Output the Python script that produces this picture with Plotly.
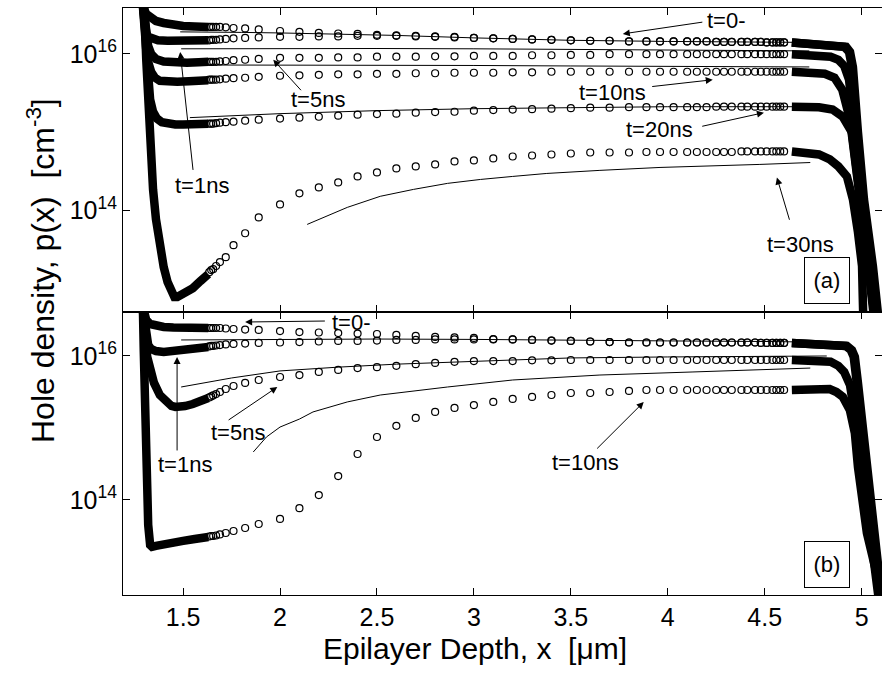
import plotly.graph_objects as go

# ---------------------------------------------------------------------------
# Hole density p(x) [cm^-3] versus epilayer depth x [um]
# circles: simulated profiles, solid thin lines: analytical model
# ---------------------------------------------------------------------------

# mesh nodes where individual simulation circles are resolved
MESH_X = [1.635, 1.645, 1.655, 1.67, 1.69, 1.72, 1.76, 1.82, 1.89,
          2.0, 2.1, 2.2, 2.3, 2.4, 2.5, 2.6, 2.7, 2.8, 2.9, 3.0, 3.1, 3.2,
          3.3, 3.4, 3.5, 3.6, 3.7,
          3.8, 3.89, 3.96, 4.03, 4.10, 4.15, 4.2, 4.25, 4.29, 4.33, 4.38,
          4.41, 4.45, 4.48, 4.51, 4.54, 4.56, 4.58, 4.60]

X_TICKS = [1.5, 2, 2.5, 3, 3.5, 4, 4.5, 5]
X_TICK_TEXT = ["1.5", "2", "2.5", "3", "3.5", "4", "4.5", "5"]
Y_TICKS = [1e14, 1e16]
Y_TICK_TEXT = ["10<sup>14</sup>", "10<sup>16</sup>"]

# ----------------------------- panel (a) -----------------------------------
A_T0_LEFT_X = [1.29, 1.295, 1.30, 1.31, 1.33, 1.36, 1.40, 1.45, 1.50, 1.56, 1.63]
A_T0_LEFT_P = [4.9e16, 3.85e16, 3.64e16, 3.24e16, 2.88e16, 2.63e16, 2.48e16,
               2.34e16, 2.27e16, 2.24e16, 2.21e16]
A_T0 = [2.21e16, 2.21e16, 2.21e16, 2.21e16, 2.21e16, 2.18e16, 2.14e16, 2.11e16,
        2.05e16, 1.96e16, 1.91e16, 1.85e16, 1.82e16, 1.80e16, 1.75e16, 1.72e16,
        1.70e16, 1.67e16, 1.65e16, 1.60e16, 1.58e16, 1.55e16, 1.53e16, 1.51e16,
        1.49e16, 1.47e16, 1.47e16,
        1.44e16, 1.44e16, 1.44e16, 1.44e16, 1.44e16, 1.44e16, 1.44e16,
        1.42e16, 1.42e16, 1.42e16, 1.42e16, 1.42e16, 1.42e16, 1.42e16,
        1.40e16, 1.40e16, 1.40e16, 1.40e16, 1.40e16]
A_T0_RIGHT_X = [4.64, 4.70, 4.80, 4.88, 4.92, 4.94, 4.955, 4.981, 5.012, 5.058, 5.074, 5.09]
A_T0_RIGHT_P = [1.40e16, 1.36e16, 1.32e16, 1.28e16, 1.23e16, 1.06e16, 6.8e15,
                9.9e14, 1.38e14, 1.94e13, 7.3e12, 3.5e12]

A_T1_LEFT_X = [1.29, 1.295, 1.30, 1.305, 1.31, 1.32, 1.34, 1.37, 1.42, 1.50, 1.56, 1.63]
A_T1_LEFT_P = [4.9e16, 3.43e16, 2.71e16, 2.21e16, 1.85e16, 1.65e16, 1.55e16,
               1.49e16, 1.47e16, 1.47e16, 1.47e16, 1.49e16]
A_T1 = [1.49e16, 1.51e16, 1.51e16, 1.51e16, 1.53e16, 1.55e16, 1.58e16, 1.60e16,
        1.62e16, 1.65e16, 1.65e16, 1.67e16, 1.67e16, 1.70e16, 1.70e16, 1.70e16,
        1.67e16, 1.65e16, 1.62e16, 1.60e16, 1.58e16, 1.55e16, 1.53e16, 1.51e16,
        1.49e16, 1.47e16, 1.47e16,
        1.44e16, 1.44e16, 1.44e16, 1.44e16, 1.44e16, 1.44e16, 1.44e16,
        1.42e16, 1.42e16, 1.42e16, 1.42e16, 1.42e16, 1.42e16, 1.42e16,
        1.40e16, 1.40e16, 1.40e16, 1.40e16, 1.40e16]
A_T1_RIGHT_X = [4.64, 4.70, 4.80, 4.87, 4.91, 4.935, 4.95, 4.975, 5.005, 5.05, 5.066, 5.08]
A_T1_RIGHT_P = [1.40e16, 1.36e16, 1.32e16, 1.28e16, 1.23e16, 1.06e16, 6.8e15,
                9.9e14, 1.38e14, 1.94e13, 7.3e12, 3.5e12]

A_T5_LEFT_X = [1.29, 1.30, 1.305, 1.31, 1.32, 1.335, 1.36, 1.40, 1.45, 1.52, 1.58, 1.63]
A_T5_LEFT_P = [4.9e16, 3.14e16, 2.21e16, 1.70e16, 1.26e16, 1.0e16, 8.6e15,
               8.0e15, 7.8e15, 7.7e15, 7.8e15, 7.9e15]
A_T5 = [7.9e15, 7.9e15, 7.9e15, 7.9e15, 8.0e15, 8.1e15, 8.3e15, 8.4e15, 8.6e15,
        8.9e15, 8.9e15, 8.9e15, 9.0e15, 9.0e15, 9.2e15, 9.2e15, 9.2e15, 9.3e15,
        9.3e15, 9.4e15, 9.4e15, 9.4e15, 9.6e15, 9.6e15, 9.7e15, 9.7e15, 9.9e15,
        9.9e15, 9.9e15, 9.9e15, 9.9e15, 9.9e15, 9.9e15, 9.9e15, 9.9e15, 9.9e15,
        9.9e15, 9.9e15, 9.9e15, 9.9e15, 9.9e15, 9.9e15, 9.9e15, 9.9e15, 9.9e15,
        9.9e15]
A_T5_RIGHT_X = [4.64, 4.70, 4.78, 4.84, 4.88, 4.91, 4.935, 4.965, 5.0, 5.045, 5.07, 5.085]
A_T5_RIGHT_P = [9.9e15, 9.7e15, 9.6e15, 9.2e15, 8.4e15, 7.0e15, 4.67e15, 9.9e14,
                1.38e14, 1.94e13, 5.0e12, 3.05e12]

A_T10_LEFT_X = [1.29, 1.30, 1.305, 1.31, 1.32, 1.335, 1.355, 1.38, 1.42, 1.47, 1.53, 1.58, 1.63]
A_T10_LEFT_P = [4.9e16, 2.71e16, 1.75e16, 1.19e16, 7.9e15, 5.9e15, 4.95e15,
                4.53e15, 4.40e15, 4.40e15, 4.47e15, 4.53e15, 4.60e15]
A_T10 = [4.67e15, 4.67e15, 4.67e15, 4.67e15, 4.73e15, 4.81e15, 4.88e15, 4.95e15,
         5.09e15, 5.25e15, 5.32e15, 5.40e15, 5.48e15, 5.48e15, 5.56e15, 5.56e15,
         5.65e15, 5.65e15, 5.73e15, 5.73e15, 5.73e15, 5.81e15, 5.81e15,
         5.90e15, 5.90e15, 5.90e15, 5.90e15, 5.90e15, 5.90e15, 5.90e15, 5.90e15,
         5.90e15, 5.90e15, 5.90e15, 5.90e15, 5.90e15, 5.90e15, 5.90e15, 5.90e15,
         5.90e15, 5.90e15, 5.90e15, 5.90e15, 5.90e15, 5.90e15, 5.90e15]
A_T10_RIGHT_X = [4.64, 4.70, 4.76, 4.81, 4.86, 4.90, 4.94, 4.96, 4.99, 5.035, 5.06, 5.075]
A_T10_RIGHT_P = [5.90e15, 5.90e15, 5.81e15, 5.56e15, 4.95e15, 3.48e15, 1.44e15,
                 6.0e14, 1.38e14, 1.94e13, 5.0e12, 3.05e12]

A_T20_LEFT_X = [1.29, 1.30, 1.305, 1.31, 1.32, 1.33, 1.345, 1.365, 1.39, 1.42,
                1.46, 1.50, 1.56, 1.63]
A_T20_LEFT_P = [4.9e16, 2.34e16, 1.30e16, 7.9e15, 4.0e15, 2.6e15, 1.82e15,
                1.49e15, 1.34e15, 1.28e15, 1.25e15, 1.25e15, 1.26e15, 1.28e15]
A_T20 = [1.28e15, 1.28e15, 1.28e15, 1.30e15, 1.32e15, 1.34e15, 1.36e15, 1.40e15,
         1.44e15, 1.49e15, 1.53e15, 1.57e15, 1.62e15, 1.67e15, 1.70e15, 1.72e15,
         1.77e15, 1.80e15, 1.82e15, 1.88e15, 1.91e15, 1.94e15, 1.96e15, 1.99e15,
         2.02e15, 2.05e15, 2.05e15,
         2.08e15, 2.08e15, 2.08e15, 2.08e15, 2.08e15, 2.08e15, 2.08e15,
         2.11e15, 2.11e15, 2.11e15, 2.11e15, 2.11e15, 2.11e15, 2.11e15, 2.11e15,
         2.11e15, 2.11e15, 2.11e15, 2.11e15]
A_T20_RIGHT_X = [4.64, 4.70, 4.78, 4.85, 4.903, 4.95, 4.975, 5.0, 5.03, 5.06, 5.07]
A_T20_RIGHT_P = [2.11e15, 2.11e15, 2.08e15, 1.94e15, 1.57e15, 9.9e14, 3.64e14,
                 1.03e14, 2.38e13, 5.0e12, 3.05e12]

A_T30_LEFT_X = [1.29, 1.30, 1.31, 1.32, 1.33, 1.345, 1.36, 1.38, 1.40, 1.42, 1.44,
                1.455, 1.47, 1.49, 1.52, 1.55, 1.59, 1.63]
A_T30_LEFT_P = [4.9e16, 3.85e16, 8.4e15, 1.94e15, 6.0e14, 1.85e14, 7.7e13, 3.38e13,
                1.88e13, 1.21e13, 8.8e12, 7.8e12, 7.8e12, 8.3e12, 9.0e12, 1.01e13,
                1.25e13, 1.53e13]
A_T30 = [1.62e13, 1.72e13, 1.77e13, 1.94e13, 2.18e13, 2.52e13, 3.58e13, 5.09e13,
         8.1e13, 1.19e14, 1.65e14, 1.96e14, 2.27e14, 2.71e14, 3.05e14, 3.43e14,
         3.64e14, 3.86e14, 4.21e14, 4.34e14, 4.60e14, 4.87e14, 5.02e14, 5.17e14,
         5.32e14, 5.48e14, 5.48e14, 5.48e14,
         5.56e14, 5.56e14, 5.56e14, 5.56e14, 5.56e14, 5.56e14, 5.56e14, 5.56e14, 5.56e14,
         5.65e14, 5.65e14, 5.65e14, 5.65e14, 5.65e14, 5.65e14, 5.65e14, 5.65e14, 5.65e14]
A_T30_RIGHT_X = [4.64, 4.717, 4.78, 4.836, 4.88, 4.924, 4.955, 4.981, 5.002, 5.006, 5.01]
A_T30_RIGHT_P = [5.65e14, 5.56e14, 5.17e14, 4.47e14, 3.64e14, 2.71e14, 1.38e14,
                 5.25e13, 1.94e13, 7.3e12, 3.05e12]

# analytical model, panel (a)
LA_0_X = [1.485, 1.6, 1.8, 2.0, 2.3, 2.6, 3.0, 3.5, 4.0, 4.5, 4.73]
LA_0_P = [1.91e16, 1.91e16, 1.88e16, 1.85e16, 1.80e16, 1.72e16, 1.60e16, 1.49e16,
          1.44e16, 1.42e16, 1.40e16]
LA_1_X = [1.49, 2.0, 2.5, 3.0, 3.5, 4.0, 4.5, 4.73]
LA_1_P = [1.16e16, 1.17e16, 1.17e16, 1.16e16, 1.14e16, 1.12e16, 1.11e16, 1.09e16]
LA_2_X = [1.62, 2.0, 2.5, 3.0, 3.5, 4.0, 4.5, 4.73]
LA_2_P = [7.2e15, 7.2e15, 7.2e15, 7.1e15, 7.0e15, 6.9e15, 6.8e15, 6.8e15]
LA_3_X = [1.535, 1.75, 2.0, 2.5, 3.0, 3.5, 4.0, 4.5, 4.73]
LA_3_P = [1.53e15, 1.62e15, 1.72e15, 1.88e15, 1.99e15, 2.05e15, 2.11e15, 2.11e15, 2.11e15]
LA_4_X = [2.14, 2.347, 2.517, 2.688, 2.864, 3.034, 3.20, 3.376, 3.65, 3.96, 4.475, 4.735]
LA_4_P = [6.6e13, 1.09e14, 1.51e14, 1.85e14, 2.21e14, 2.48e14, 2.71e14, 2.96e14,
          3.24e14, 3.53e14, 3.86e14, 4.08e14]

# ----------------------------- panel (b) -----------------------------------
B_T0_LEFT_X = [1.29, 1.295, 1.30, 1.31, 1.33, 1.36, 1.40, 1.45, 1.50, 1.56, 1.63]
B_T0_LEFT_P = [5.1e16, 4.08e16, 3.59e16, 3.16e16, 2.78e16, 2.61e16, 2.53e16,
               2.49e16, 2.45e16, 2.45e16, 2.45e16]
B_T0 = [2.45e16, 2.45e16, 2.45e16, 2.45e16, 2.45e16, 2.41e16, 2.37e16, 2.33e16,
        2.30e16, 2.22e16, 2.15e16, 2.12e16, 2.08e16, 2.05e16, 2.02e16, 1.96e16,
        1.90e16, 1.84e16, 1.81e16, 1.78e16, 1.72e16, 1.70e16, 1.67e16, 1.64e16,
        1.62e16, 1.59e16, 1.56e16,
        1.54e16, 1.54e16, 1.54e16, 1.54e16, 1.54e16, 1.54e16, 1.54e16, 1.54e16,
        1.54e16, 1.54e16, 1.54e16, 1.54e16, 1.54e16,
        1.52e16, 1.52e16, 1.52e16, 1.52e16, 1.52e16, 1.52e16]
B_T0_RIGHT_X = [4.64, 4.70, 4.80, 4.88, 4.924, 4.95, 4.965, 4.981, 5.0, 5.027, 5.058, 5.094, 5.11]
B_T0_RIGHT_P = [1.52e16, 1.47e16, 1.45e16, 1.42e16, 1.38e16, 1.21e16, 9.7e15,
                4.22e15, 1.42e15, 2.87e14, 3.48e13, 7.0e12, 3.0e12]

B_T1_LEFT_X = [1.29, 1.295, 1.30, 1.305, 1.31, 1.32, 1.335, 1.36, 1.40, 1.45, 1.50, 1.56, 1.63]
B_T1_LEFT_P = [5.1e16, 4.08e16, 2.97e16, 2.15e16, 1.72e16, 1.42e16, 1.25e16,
               1.17e16, 1.14e16, 1.17e16, 1.23e16, 1.29e16, 1.33e16]
B_T1 = [1.36e16, 1.38e16, 1.38e16, 1.40e16, 1.42e16, 1.45e16, 1.47e16, 1.49e16,
        1.52e16, 1.54e16, 1.56e16, 1.59e16, 1.62e16, 1.62e16, 1.64e16, 1.67e16,
        1.67e16, 1.70e16, 1.70e16, 1.70e16, 1.70e16, 1.70e16, 1.67e16, 1.64e16,
        1.62e16, 1.59e16, 1.56e16,
        1.54e16, 1.54e16, 1.54e16, 1.54e16, 1.54e16, 1.54e16, 1.54e16, 1.54e16,
        1.54e16, 1.54e16, 1.54e16, 1.54e16, 1.54e16,
        1.52e16, 1.52e16, 1.52e16, 1.52e16, 1.52e16, 1.52e16]
B_T1_RIGHT_X = [4.64, 4.70, 4.80, 4.875, 4.918, 4.944, 4.959, 4.975, 4.994, 5.021, 5.052, 5.088, 5.104]
B_T1_RIGHT_P = [1.52e16, 1.47e16, 1.45e16, 1.42e16, 1.38e16, 1.21e16, 9.7e15,
                4.22e15, 1.42e15, 2.87e14, 3.48e13, 7.0e12, 3.0e12]

B_T5_LEFT_X = [1.29, 1.295, 1.30, 1.305, 1.31, 1.315, 1.33, 1.35, 1.38, 1.41, 1.44,
               1.46, 1.48, 1.51, 1.55, 1.59, 1.63]
B_T5_LEFT_P = [5.1e16, 4.08e16, 2.97e16, 1.96e16, 1.33e16, 9.7e15, 6.4e15, 4.22e15,
               2.87e15, 2.30e15, 2.02e15, 1.96e15, 1.96e15, 2.02e15, 2.15e15,
               2.37e15, 2.61e15]
B_T5 = [2.66e15, 2.74e15, 2.83e15, 2.96e15, 3.16e15, 3.48e15, 3.83e15, 4.22e15,
        4.64e15, 5.11e15, 5.44e15, 6.0e15, 6.4e15, 6.8e15, 7.0e15, 7.3e15, 7.7e15,
        8.0e15, 8.3e15, 8.5e15, 8.5e15, 8.5e15, 8.7e15, 8.7e15, 8.8e15,
        8.8e15, 8.8e15, 8.8e15, 8.8e15, 8.8e15, 8.8e15, 8.8e15, 8.8e15, 8.8e15,
        8.8e15, 8.8e15, 8.8e15, 8.8e15, 8.8e15, 8.8e15, 8.8e15, 8.8e15, 8.8e15,
        8.8e15, 8.8e15, 8.8e15]
B_T5_RIGHT_X = [4.64, 4.70, 4.78, 4.84, 4.88, 4.91, 4.94, 4.96, 4.985, 5.01, 5.04, 5.075, 5.095]
B_T5_RIGHT_P = [8.8e15, 8.8e15, 8.7e15, 8.3e15, 7.3e15, 6.0e15, 3.95e15, 2.08e15,
                6.8e14, 1.90e14, 3.83e13, 7.7e12, 3.0e12]

B_T10_LEFT_X = [1.29, 1.293, 1.297, 1.30, 1.305, 1.31, 1.315, 1.32, 1.33, 1.34,
                1.36, 1.40, 1.45, 1.50, 1.56, 1.63]
B_T10_LEFT_P = [5.1e16, 4.08e16, 1.21e16, 3.37e15, 9.4e14, 2.61e14, 8.5e13, 4.5e13,
                2.37e13, 2.23e13, 2.30e13, 2.37e13, 2.53e13, 2.70e13, 2.87e13, 3.06e13]
B_T10 = [3.11e13, 3.16e13, 3.16e13, 3.21e13, 3.32e13, 3.48e13, 3.71e13, 4.08e13,
         4.64e13, 5.45e13, 7.7e13, 1.17e14, 2.15e14, 4.35e14, 7.5e14, 1.07e15,
         1.38e15, 1.67e15, 1.90e15, 2.08e15, 2.30e15, 2.53e15, 2.70e15, 2.87e15,
         3.06e15, 3.06e15, 3.16e15, 3.27e15,
         3.37e15, 3.37e15, 3.37e15, 3.37e15, 3.37e15, 3.37e15, 3.37e15, 3.37e15,
         3.37e15, 3.37e15, 3.37e15, 3.37e15, 3.37e15, 3.37e15, 3.37e15, 3.37e15,
         3.37e15, 3.37e15]
B_T10_RIGHT_X = [4.64, 4.70, 4.80, 4.835, 4.87, 4.903, 4.939, 4.965, 4.981, 5.0,
                 5.027, 5.069, 5.095, 5.11]
B_T10_RIGHT_P = [3.37e15, 3.37e15, 3.48e15, 3.48e15, 3.16e15, 2.70e15, 1.78e15,
                 8.5e14, 2.87e14, 1.0e14, 3.48e13, 1.17e13, 6.2e12, 4.1e12]

# analytical model, panel (b)
LB_0_X = [1.49, 2.0, 2.5, 3.0, 3.5, 4.0, 4.5, 4.75]
LB_0_P = [1.67e16, 1.70e16, 1.72e16, 1.70e16, 1.64e16, 1.62e16, 1.59e16, 1.56e16]
LB_5_X = [1.49, 1.6, 1.75, 2.0, 2.3, 2.6, 3.0, 3.5, 4.0, 4.5, 4.82]
LB_5_P = [3.71e15, 4.22e15, 4.95e15, 6.2e15, 7.0e15, 7.7e15, 8.5e15, 9.4e15,
          9.7e15, 1.0e16, 1.0e16]
LB_10_X = [1.862, 1.93, 2.0, 2.1, 2.17, 2.347, 2.517, 2.864, 3.2, 3.44, 3.65, 4.13, 4.735]
LB_10_P = [4.64e14, 7.5e14, 1.03e15, 1.33e15, 1.67e15, 2.30e15, 2.87e15, 3.71e15,
           4.64e15, 5.11e15, 5.44e15, 6.0e15, 6.8e15]

# ---------------------------------------------------------------------------
FONT = "Arial, 'Liberation Sans', Helvetica, sans-serif"
INK = "black"

fig = go.Figure()


def add_line(x, p, xa, ya, width=1.0):
    fig.add_trace(go.Scatter(x=x, y=p, mode="lines", xaxis=xa, yaxis=ya,
                             line=dict(color=INK, width=width),
                             hoverinfo="skip", showlegend=False))


def add_profile(left_x, left_p, circles, right_x, right_p, xa, ya):
    # densely meshed parts near both contacts render as a solid band
    add_line(left_x, left_p, xa, ya, width=8.5)
    add_line(right_x, right_p, xa, ya, width=8.5)
    fig.add_trace(go.Scatter(x=MESH_X, y=circles, mode="markers", xaxis=xa, yaxis=ya,
                             marker=dict(symbol="circle-open", size=7, color=INK,
                                         line=dict(width=1.2, color=INK)),
                             hoverinfo="skip", showlegend=False))


# panel (a) -> x2 / y2
for lx, lp in [(LA_0_X, LA_0_P), (LA_1_X, LA_1_P), (LA_2_X, LA_2_P),
               (LA_3_X, LA_3_P), (LA_4_X, LA_4_P)]:
    add_line(lx, lp, "x2", "y2")
for prof in [(A_T0_LEFT_X, A_T0_LEFT_P, A_T0, A_T0_RIGHT_X, A_T0_RIGHT_P),
             (A_T1_LEFT_X, A_T1_LEFT_P, A_T1, A_T1_RIGHT_X, A_T1_RIGHT_P),
             (A_T5_LEFT_X, A_T5_LEFT_P, A_T5, A_T5_RIGHT_X, A_T5_RIGHT_P),
             (A_T10_LEFT_X, A_T10_LEFT_P, A_T10, A_T10_RIGHT_X, A_T10_RIGHT_P),
             (A_T20_LEFT_X, A_T20_LEFT_P, A_T20, A_T20_RIGHT_X, A_T20_RIGHT_P),
             (A_T30_LEFT_X, A_T30_LEFT_P, A_T30, A_T30_RIGHT_X, A_T30_RIGHT_P)]:
    add_profile(*prof, "x2", "y2")

# panel (b) -> x / y
for lx, lp in [(LB_0_X, LB_0_P), (LB_5_X, LB_5_P), (LB_10_X, LB_10_P)]:
    add_line(lx, lp, "x", "y")
for prof in [(B_T0_LEFT_X, B_T0_LEFT_P, B_T0, B_T0_RIGHT_X, B_T0_RIGHT_P),
             (B_T1_LEFT_X, B_T1_LEFT_P, B_T1, B_T1_RIGHT_X, B_T1_RIGHT_P),
             (B_T5_LEFT_X, B_T5_LEFT_P, B_T5, B_T5_RIGHT_X, B_T5_RIGHT_P),
             (B_T10_LEFT_X, B_T10_LEFT_P, B_T10, B_T10_RIGHT_X, B_T10_RIGHT_P)]:
    add_profile(*prof, "x", "y")

# ------------------------------ axes ---------------------------------------
SPLIT = 0.4821
axis_common = dict(showline=True, linecolor=INK, linewidth=1, mirror="allticks",
                   ticks="inside", ticklen=7, tickwidth=1, tickcolor=INK,
                   showgrid=False, zeroline=False,
                   tickfont=dict(family=FONT, size=25, color=INK))

x_range = [1.19, 5.105]
fig.update_layout(
    xaxis=dict(domain=[0, 1], range=x_range, anchor="y", tickmode="array",
               tickvals=X_TICKS, ticktext=X_TICK_TEXT, **axis_common),
    xaxis2=dict(domain=[0, 1], range=x_range, anchor="y2", matches="x",
                tickmode="array", tickvals=X_TICKS, showticklabels=False, **axis_common),
    yaxis=dict(domain=[0, SPLIT], type="log", range=[12.68, 16.611], anchor="x",
               tickmode="array", tickvals=Y_TICKS, ticktext=Y_TICK_TEXT, **axis_common),
    yaxis2=dict(domain=[SPLIT, 1], type="log", range=[12.70, 16.586], anchor="x2",
                tickmode="array", tickvals=Y_TICKS, ticktext=Y_TICK_TEXT, **axis_common),
    width=882, height=673,
    margin=dict(l=123, r=0, t=8, b=78, pad=0),
    paper_bgcolor="white", plot_bgcolor="white",
    font=dict(family=FONT, color=INK),
)

# ------------------------------ labels -------------------------------------
LBL = dict(family=FONT, size=22, color=INK)


def label(text, x, logp, xa, ya):
    fig.add_annotation(text=text, x=x, y=logp, xref=xa, yref=ya, showarrow=False,
                       font=LBL, xanchor="center", yanchor="middle")


def arrow(x_head, logp_head, x_tail, logp_tail, xa, ya):
    fig.add_annotation(text="", x=x_head, y=logp_head, ax=x_tail, ay=logp_tail,
                       xref=xa, yref=ya, axref=xa, ayref=ya, showarrow=True,
                       arrowhead=2, arrowsize=1.4, arrowwidth=1, arrowcolor=INK,
                       standoff=0, startstandoff=0)


# panel (a)
label("t=0-", 4.305, 16.42, "x2", "y2")
arrow(3.768, 16.255, 4.186, 16.408, "x2", "y2")
label("t=1ns", 1.598, 14.318, "x2", "y2")
arrow(1.485, 16.025, 1.552, 14.497, "x2", "y2")
label("t=5ns", 2.197, 15.414, "x2", "y2")
arrow(1.965, 15.924, 2.115, 15.516, "x2", "y2")
label("t=10ns", 3.716, 15.503, "x2", "y2")
arrow(4.232, 15.669, 3.912, 15.580, "x2", "y2")
label("t=20ns", 3.959, 15.032, "x2", "y2")
arrow(4.496, 15.248, 4.170, 15.07, "x2", "y2")
label("t=30ns", 4.687, 13.567, "x2", "y2")
arrow(4.563, 14.42, 4.63, 13.86, "x2", "y2")
fig.add_annotation(text="(a)", x=4.819, y=13.102, xref="x2", yref="y2", showarrow=False,
                   font=LBL, width=44, height=45, borderwidth=1, bordercolor=INK,
                   borderpad=0, bgcolor="white", xanchor="center", yanchor="middle")

# panel (b)
label("t=0-", 2.368, 16.472, "x", "y")
arrow(1.820, 16.472, 2.239, 16.486, "x", "y")
label("t=1ns", 1.510, 14.486, "x", "y")
arrow(1.469, 15.986, 1.469, 14.667, "x", "y")
label("t=5ns", 1.784, 14.944, "x", "y")
arrow(1.986, 15.569, 1.727, 15.097, "x", "y")
label("t=10ns", 3.576, 14.514, "x", "y")
arrow(3.876, 15.361, 3.628, 14.694, "x", "y")
fig.add_annotation(text="(b)", x=4.821, y=13.097, xref="x", yref="y", showarrow=False,
                   font=LBL, width=44, height=45, borderwidth=1, bordercolor=INK,
                   borderpad=0, bgcolor="white", xanchor="center", yanchor="middle")

# axis titles
fig.add_annotation(text="Epilayer Depth, x\u00a0\u00a0[\u03bcm]", xref="paper", yref="paper",
                   x=0.4638, y=-0.0903, showarrow=False, xanchor="center", yanchor="middle",
                   font=dict(family=FONT, size=30, color=INK))
fig.add_annotation(text="Hole density, p(x)\u00a0\u00a0[cm<sup>-3</sup>]", xref="paper",
                   yref="paper", x=-0.108, y=0.552, textangle=-90, showarrow=False,
                   xanchor="center", yanchor="middle",
                   font=dict(family=FONT, size=32, color=INK))

fig.write_html("out.html")
